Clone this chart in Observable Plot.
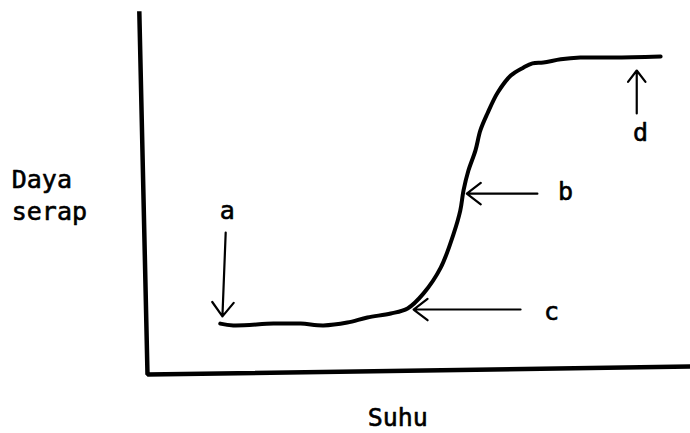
<!DOCTYPE html>
<html>
<head>
<meta charset="utf-8">
<script src="https://cdn.jsdelivr.net/npm/d3@7"></script>
<script src="https://cdn.jsdelivr.net/npm/@observablehq/plot@0.6"></script>
<style>
  html, body { margin: 0; padding: 0; background: #fff; }
</style>
</head>
<body>
<div id="chart"></div>
<script>
// Melting curve (hand-drawn), abstract units 0–100 on both axes
const suhu = [13.4, 15.8, 23.2, 28.2, 32.4, 36.8, 40.5, 44.8, 47.9, 50.8, 54.0, 56.4, 57.6, 58.2, 59.1, 60.4, 61.3, 62.6, 64.5, 66.9, 69.2, 70.9, 72.9, 76.1, 79.7, 85.8, 94.5];
const dayaSerap = [14.1, 13.6, 14.1, 14.1, 13.6, 14.4, 15.8, 16.9, 18.3, 22.4, 29.6, 39.1, 45.4, 51.0, 56.5, 62.1, 67.6, 72.3, 78.1, 82.8, 85.0, 86.2, 86.4, 87.3, 87.8, 87.8, 88.1];

// Hand-drawn axis lines (top of y axis, origin, end of x axis)
const axisX = [-1.5, 0, 100];
const axisY = [100, 0, 2.2];

// Annotation arrows and their letters
const arrowLabels = ["a", "b", "c", "d"];
const arrowFromX = [14.4, 71.8, 68.7, 90.1];
const arrowFromY = [39.3, 50.1, 18.0, 72.3];
const arrowToX = [13.8, 58.8, 49.0, 90.1];
const arrowToY = [16.1, 50.1, 18.0, 84.2];
const labelX = [14.7, 77.0, 74.4, 90.8];
const labelY = [43.2, 48.2, 15.2, 64.8];

// Axis titles
const yTitle = "Daya\nserap";
const yTitleX = -25.0, yTitleY = 42.9;
const xTitle = "Suhu";
const xTitleX = 46.1, xTitleY = -14.4;

const curve = suhu.map((x, i) => ({x, y: dayaSerap[i]}));
const axes = axisX.map((x, i) => ({x, y: axisY[i]}));
const arrows = arrowLabels.map((l, i) => ({
  label: l, x1: arrowFromX[i], y1: arrowFromY[i], x2: arrowToX[i], y2: arrowToY[i],
  lx: labelX[i], ly: labelY[i]
}));

const textStyle = {fontSize: 25, fill: "#000", stroke: "#000", strokeWidth: 0.6, lineAnchor: "bottom"};

const chart = Plot.plot({
  width: 690,
  height: 433,
  marginLeft: 147,
  marginRight: 0,
  marginTop: 13,
  marginBottom: 59,
  x: {domain: [0, 100], axis: null},
  y: {domain: [0, 100], axis: null},
  style: {background: "#fff", fontFamily: "DejaVu Sans Mono", color: "#000"},
  marks: [
    Plot.line(axes, {x: "x", y: "y", stroke: "#000", strokeWidth: 4.5, strokeLinejoin: "miter", strokeLinecap: "square"}),
    Plot.line(curve, {x: "x", y: "y", curve: "catmull-rom", stroke: "#000", strokeWidth: 4, strokeLinecap: "round"}),
    Plot.arrow(arrows, {x1: "x1", y1: "y1", x2: "x2", y2: "y2", stroke: "#000", strokeWidth: 2.2, headLength: 12, headAngle: 75}),
    Plot.text(arrows, {x: "lx", y: "ly", text: "label", textAnchor: "middle", ...textStyle}),
    Plot.text([yTitle], {x: yTitleX, y: yTitleY, text: d => d, lineHeight: 1.28, textAnchor: "start", ...textStyle}),
    Plot.text([xTitle], {x: xTitleX, y: xTitleY, text: d => d, textAnchor: "middle", ...textStyle})
  ]
});
document.getElementById("chart").appendChild(chart);
</script>
</body>
</html>
